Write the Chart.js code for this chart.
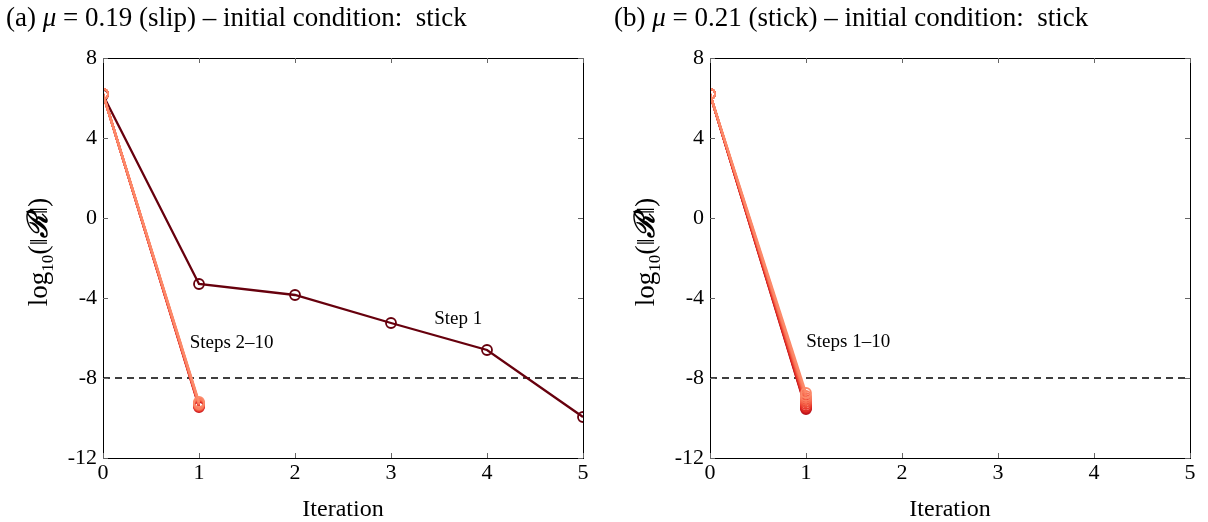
<!DOCTYPE html>
<html><head><meta charset="utf-8">
<script src="https://cdn.jsdelivr.net/npm/chart.js@4"></script>
<style>
html,body{margin:0;padding:0;background:#fff;width:1208px;height:522px;overflow:hidden}
.p{position:absolute;top:0;height:522px}
</style></head><body>
<div class="p" style="left:0;width:607px"><canvas id="ca"></canvas></div>
<div class="p" style="left:607px;width:601px"><canvas id="cb"></canvas></div>
<script>
const iterations = [0,1,2,3,4,5];
const xTicks = [0,1,2,3,4,5];
const yTicks = [-12,-8,-4,0,4,8];
const tolerance = -8;
// panel (a) mu = 0.19 (slip)
const aStep1 = [6.15,-3.3,-3.85,-5.25,-6.6,-9.95];
const aStepsLater = [ // steps 2..10, iterations 0..1
  [6.2,-9.45],[6.2,-9.4],[6.2,-9.35],[6.2,-9.4],[6.2,-9.3],[6.2,-9.35],[6.2,-9.25],[6.2,-9.3],[6.2,-9.2]
];
// panel (b) mu = 0.21 (stick), steps 1..10
const bSteps = [
  [6.2,-9.55],[6.2,-9.5],[6.2,-9.45],[6.2,-9.4],[6.2,-9.3],[6.2,-9.2],[6.2,-9.1],[6.2,-9.0],[6.2,-8.9],[6.2,-8.75]
];
const stepColors = ['#67000d','#c8161c','#d62320','#e02e26','#ea3d2f','#f0503b','#f56147','#f87155','#fa7e60','#fc8a6a'];
const bColors = ['#b3121a','#c8161c','#d62320','#e02e26','#ea3d2f','#f0503b','#f56147','#f87155','#fa7e60','#fc8a6a'];

const SERIF = '"Liberation Serif","DejaVu Serif",serif';

function ds(vals, color, k){
  return {data: vals.map((v,i)=>({x:iterations[i], y:v})), borderColor:color, backgroundColor:'rgba(0,0,0,0)', order:100-k,
    borderWidth:2.3, pointRadius:5, pointBorderWidth:1.8, pointBackgroundColor:'rgba(0,0,0,0)', pointBorderColor:color, tension:0};
}
function tolDs(){
  return {data:[{x:xTicks[0],y:tolerance},{x:xTicks[xTicks.length-1],y:tolerance}], borderColor:'#000', borderWidth:1.3, order:200,
    borderDash:[7,5], pointRadius:0, backgroundColor:'rgba(0,0,0,0)'};
}

function decor(opts){
  return {id:'decor', afterDraw(chart){
    const c=chart.ctx, a=chart.chartArea, xs=chart.scales.x, ys=chart.scales.y;
    c.save();
    c.strokeStyle='#000'; c.lineWidth=1;
    c.strokeRect(Math.round(a.left)+0.5, Math.round(a.top)+0.5, Math.round(a.right-a.left), Math.round(a.bottom-a.top));
    c.strokeStyle='#666'; c.lineWidth=1;
    const L=5;
    xTicks.forEach(t=>{const px=Math.round(xs.getPixelForValue(t))+0.5;
      c.beginPath(); c.moveTo(px,a.bottom); c.lineTo(px,a.bottom-L); c.moveTo(px,a.top); c.lineTo(px,a.top+L); c.stroke();});
    yTicks.forEach(t=>{const py=Math.round(ys.getPixelForValue(t))+0.5;
      c.beginPath(); c.moveTo(a.left,py); c.lineTo(a.left+L,py); c.moveTo(a.right,py); c.lineTo(a.right-L,py); c.stroke();});
    // title
    c.fillStyle='#000'; c.textBaseline='alphabetic'; c.textAlign='left';
    let x=opts.titleX; const y=26;
    opts.title.forEach(p=>{c.font=(p.i?'italic ':'')+'27px '+SERIF; c.fillText(p.t,x,y); x+=c.measureText(p.t).width;});
    // x title
    c.font='24px '+SERIF; c.textAlign='center';
    c.fillText('Iteration',(a.left+a.right)/2,516);
    // y title rotated
    c.translate(47,(a.top+a.bottom)/2-6); c.rotate(-Math.PI/2);
    const segs=[{t:'log',f:'27px '+SERIF,dy:0},{t:'10',f:'17px '+SERIF,dy:6},{t:'(',f:'28px '+SERIF,dy:0},{t:'‖',f:'26px '+SERIF,dy:0},
      {t:'ℛ',f:'bold italic 28px "DejaVu Serif",serif',dy:0},{t:'‖',f:'26px '+SERIF,dy:0},{t:')',f:'28px '+SERIF,dy:0}];
    let w=0; segs.forEach(s=>{c.font=s.f; s.w=c.measureText(s.t).width; w+=s.w;});
    let sx=-w/2; c.textAlign='left';
    segs.forEach(s=>{c.font=s.f; c.fillText(s.t,sx,s.dy); sx+=s.w;});
    c.restore();
    // annotations
    c.save(); c.fillStyle='#000'; c.font='19px '+SERIF; c.textAlign='center'; c.textBaseline='middle';
    opts.notes.forEach(n=>c.fillText(n.t, xs.getPixelForValue(n.x), ys.getPixelForValue(n.y)));
    c.restore();
  }};
}

function make(id, datasets, opts, rightPad){
  return new Chart(document.getElementById(id), {
    type:'line',
    data:{datasets},
    options:{
      responsive:true, maintainAspectRatio:false, animation:false,
      layout:{padding:{top:58,right:rightPad,left:0,bottom:0}},
      plugins:{legend:{display:false}, tooltip:{enabled:false}},
      scales:{
        x:{type:'linear', min:0, max:5, afterBuildTicks(s){s.ticks=xTicks.map(v=>({value:v}));},
          grid:{display:false, drawTicks:false}, border:{display:false},
          ticks:{color:'#000', font:{family:SERIF,size:22}, padding:2, maxRotation:0},
          afterFit(s){s.height=64;}},
        y:{type:'linear', min:-12, max:8, afterBuildTicks(s){s.ticks=yTicks.map(v=>({value:v}));},
          grid:{display:false, drawTicks:false}, border:{display:false},
          ticks:{color:'#000', font:{family:SERIF,size:22}, padding:6},
          afterFit(s){s.width=103;}}
      }
    },
    plugins:[decor(opts)]
  });
}

const dA=[tolDs(), ds(aStep1, stepColors[0], 0)];
aStepsLater.forEach((v,i)=>dA.push(ds(v, stepColors[i+1], i+1)));
make('ca', dA, {titleX:6, title:[{t:'(a) '},{t:'μ',i:1},{t:' = 0.19 (slip) – initial condition:  stick'}],
  notes:[{t:'Step 1',x:3.7,y:-5.05},{t:'Steps 2–10',x:1.34,y:-6.25}]}, 24);

const dB=[tolDs()];
bSteps.forEach((v,i)=>dB.push(ds(v, bColors[i], i)));
make('cb', dB, {titleX:7, title:[{t:'(b) '},{t:'μ',i:1},{t:' = 0.21 (stick) – initial condition:  stick'}],
  notes:[{t:'Steps 1–10',x:1.44,y:-6.2}]}, 18);
</script>
</body></html>
